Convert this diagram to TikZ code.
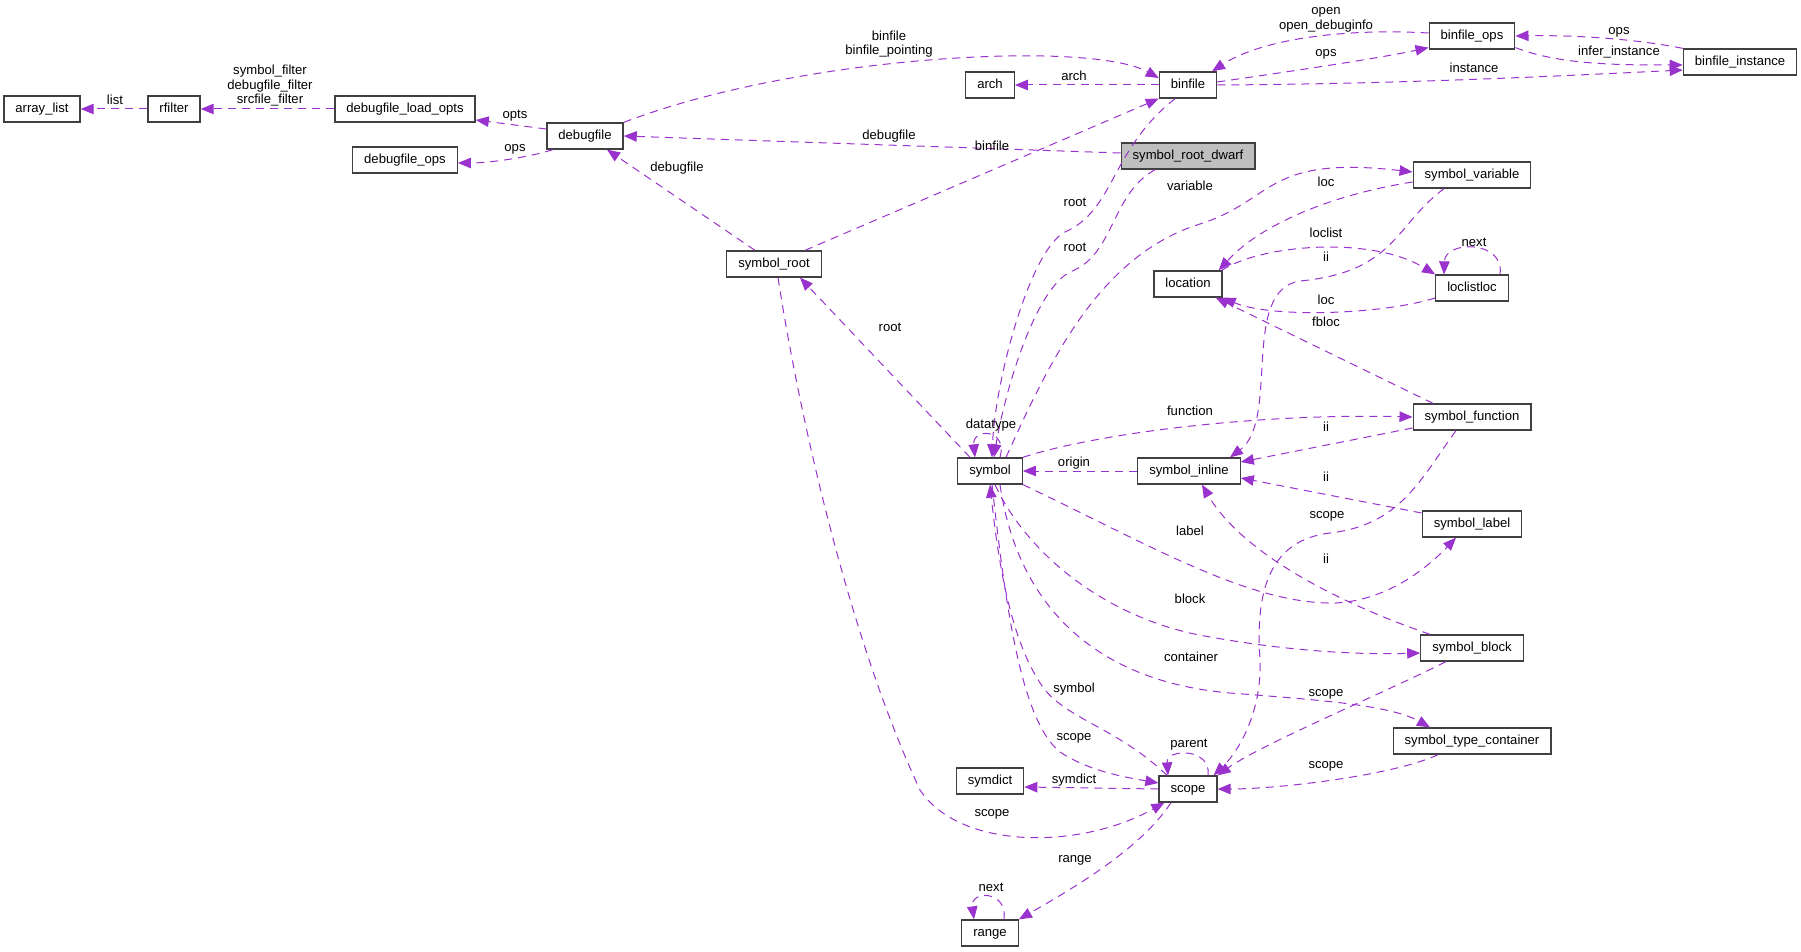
\documentclass[tikz,border=0pt]{standalone}
\usepackage{fontspec}
\setmainfont{Liberation Sans}
\usetikzlibrary{arrows.meta}
\definecolor{edgepurple}{HTML}{9A32CD}
\definecolor{boxgray}{HTML}{BFBFBF}
\definecolor{boxline}{HTML}{404040}

\begin{document}
\begin{tikzpicture}[x=1pt, y=-1pt,
  cls/.style ={draw=boxline, line width=1.3pt, fill=white, font=\fontsize{13.1}{15}\selectfont,
               inner xsep=11.5pt, inner ysep=0pt, minimum height=26pt, text height=9.5pt, text depth=2.7pt},
  clsMain/.style={cls, fill=boxgray},
  rel/.style ={draw=edgepurple, line width=1pt, dash pattern=on 8pt off 6pt,
               -{Triangle[length=13pt,width=10.5pt,fill=edgepurple]}},
  lbl/.style ={font=\fontsize{13.1}{15}\selectfont, inner sep=0pt, text height=9.5pt, text depth=2.7pt},
  lblM/.style={font=\fontsize{13.1}{14.5}\selectfont, inner sep=0pt, align=center},
]
\useasboundingbox (0,0) rectangle (1801,952);
\fill[white] (0,0) rectangle (1801,952);
% class boxes (coordinates in pixels of the reference)
\node[cls] (arrayList)    at (42,109)   {array\_list};
\node[cls] (rfilter)      at (174,109)  {rfilter};
\node[cls] (dfLoadOpts)   at (405,109)  {debugfile\_load\_opts};
\node[cls] (debugfile)    at (585,136)  {debugfile};
\node[cls] (dfOps)        at (405,160)  {debugfile\_ops};
\node[cls] (arch)         at (990,85)   {arch};
\node[cls] (binfile)      at (1188,85)  {binfile};
\node[cls] (binfileOps)   at (1472,36)  {binfile\_ops};
\node[cls] (binfileInst)  at (1740,62)  {binfile\_instance};
\node[clsMain] (symRootDwarf) at (1188,156) {symbol\_root\_dwarf};
\node[cls] (symVariable)  at (1472,175) {symbol\_variable};
\node[cls] (symRoot)      at (774,264)  {symbol\_root};
\node[cls] (location)     at (1188,284) {location};
\node[cls] (loclistloc)   at (1472,288) {loclistloc};
\node[cls] (symbol)       at (990,471)  {symbol};
\node[cls] (symInline)    at (1189,471) {symbol\_inline};
\node[cls] (symFunction)  at (1472,417) {symbol\_function};
\node[cls] (symLabel)     at (1472,524) {symbol\_label};
\node[cls] (symBlock)     at (1472,648) {symbol\_block};
\node[cls] (symTypeCont)  at (1472,741) {symbol\_type\_container};
\node[cls] (symdict)      at (990,781)  {symdict};
\node[cls] (scope)        at (1188,789) {scope};
\node[cls] (range)        at (990,933)  {range};
% left part
\draw[rel] (rfilter.west) -- (arrayList.east);
\draw[rel] (dfLoadOpts.west) -- (rfilter.east);
\draw[rel] ([yshift=7pt]debugfile.west) -- ([yshift=-11pt]dfLoadOpts.east);
\draw[rel] ([xshift=-32pt]debugfile.south) .. controls (530,157) and (490,163) .. ([yshift=-3pt]dfOps.east);
\draw[rel] (debugfile.north east) .. controls (800,55) and (1090,40) .. ([yshift=7pt]binfile.west);
% binfile group
\draw[rel] (binfile.west) -- (arch.east);
\draw[rel] ([yshift=3pt]binfile.east) .. controls (1300,70) and (1380,58) .. ([yshift=2pt]binfileOps.south west);
\draw[rel] ([yshift=3pt]binfileOps.west) .. controls (1340,28) and (1260,40) .. ([xshift=24pt]binfile.north);
\draw[rel] (binfile.east) .. controls (1400,84) and (1560,76) .. ([yshift=-8pt]binfileInst.west);
\draw[rel] ([yshift=2pt]binfileOps.south east) .. controls (1560,65) and (1620,65) .. ([yshift=-3pt]binfileInst.west);
\draw[rel] (binfileInst.north west) .. controls (1630,38) and (1570,35) .. (binfileOps.east);
% roots
\draw[rel] ([yshift=3pt]symRootDwarf.west) -- (debugfile.east);
\draw[rel] ([xshift=31pt]symRoot.north) -- (binfile.south west);
\draw[rel] ([xshift=-19pt]symRoot.north) -- ([xshift=22pt]debugfile.south);
\draw[rel] ([xshift=-20pt]symbol.north) -- ([xshift=26pt]symRoot.south);
\draw[rel] ([xshift=-13pt]binfile.south) .. controls (1110,150) and (1115,210) .. (1065,232)
           .. controls (1030,250) and (995,380) .. ([xshift=2pt]symbol.north);
\draw[rel] ([xshift=-33pt]symRootDwarf.south) .. controls (1110,195) and (1115,255) .. (1070,272)
           .. controls (1035,290) and (1005,390) .. ([xshift=4pt]symbol.north);
\draw[rel] ([xshift=16pt]symbol.north) .. controls (1050,360) and (1100,255) .. (1200,224)
           .. controls (1275,200) and (1265,155) .. ([yshift=3pt]symVariable.west);
\draw[rel] ([xshift=10pt]symbol.north) .. controls (1008,428) and (972,428) .. ([xshift=-15pt]symbol.north);
% locations
\draw[rel] ([yshift=-7pt]symVariable.west) .. controls (1330,195) and (1260,225) .. ([xshift=-4pt]location.north east);
\draw[rel] ([xshift=-1pt]location.north east) .. controls (1260,245) and (1370,235) .. (loclistloc.north west);
\draw[rel] ([yshift=-10pt]loclistloc.west) .. controls (1380,315) and (1270,318) .. (location.south east);
\draw[rel] ([xshift=-39pt]symFunction.north) -- ([xshift=-7pt]location.south east);
\draw[rel] ([xshift=28pt]loclistloc.north) .. controls (1505,240) and (1445,240) .. ([xshift=-28pt]loclistloc.north);
% symbol kinds
\draw[rel] (symInline.west) -- (symbol.east);
\draw[rel] (symbol.north east) .. controls (1090,435) and (1250,413) .. (symFunction.west);
\draw[rel] (symbol.south east) .. controls (1150,545) and (1250,605) .. (1336,603)
           .. controls (1390,600) and (1430,565) .. ([xshift=-16pt]symLabel.south);
\draw[rel] ([xshift=5pt]symbol.south) .. controls (1025,550) and (1100,615) .. (1199,635)
           .. controls (1280,650) and (1350,655) .. ([yshift=-5pt]symBlock.west);
\draw[rel] ([xshift=10pt]symbol.south) .. controls (1015,590) and (1080,680) .. (1230,693)
           .. controls (1320,700) and (1390,705) .. ([xshift=-42pt]symTypeCont.north);
\draw[rel] ([yshift=-11pt]symFunction.west) -- ([yshift=9pt]symInline.east);
\draw[rel] ([yshift=11pt]symLabel.west) -- ([yshift=-7pt]symInline.east);
\draw[rel] ([xshift=-42pt]symBlock.north) .. controls (1330,600) and (1240,550) .. ([xshift=13pt]symInline.south);
\draw[rel] ([xshift=-28pt]symVariable.south) .. controls (1395,225) and (1395,272) .. (1300,281)
           .. controls (1240,290) and (1280,420) .. ([xshift=41pt]symInline.north);
% scopes
\draw[rel] ([xshift=2pt]symbol.south) .. controls (1005,600) and (1020,720) .. (1060,752)
           .. controls (1090,772) and (1130,778) .. ([yshift=6pt]scope.west);
\draw[rel] ([xshift=-21pt]scope.north) .. controls (1120,730) and (1070,720) .. (1045,690)
           .. controls (1015,650) and (1000,580) .. (symbol.south);
\draw[rel] ([xshift=-16pt]symFunction.south) .. controls (1420,480) and (1400,525) .. (1330,533)
           .. controls (1270,540) and (1255,590) .. (1260,660)
           .. controls (1262,710) and (1240,750) .. ([xshift=-4pt]scope.north east);
\draw[rel] ([xshift=-26pt]symBlock.south) .. controls (1390,690) and (1260,745) .. (scope.north east);
\draw[rel] ([xshift=-34pt]symTypeCont.south) .. controls (1395,775) and (1280,789) .. (scope.east);
\draw[rel] (scope.west) -- ([yshift=-6pt]symdict.east);
\draw[rel] ([xshift=20pt]scope.north) .. controls (1212,748) and (1166,748) .. ([xshift=-20pt]scope.north);
\draw[rel] ([xshift=-17pt]scope.south) .. controls (1140,850) and (1070,890) .. (range.north east);
\draw[rel] ([xshift=14pt]range.north) .. controls (1008,890) and (970,890) .. ([xshift=-16pt]range.north);
\draw[rel] ([xshift=4pt]symRoot.south) .. controls (800,420) and (850,640) .. (920,790)
           .. controls (960,850) and (1080,850) .. ([xshift=6pt]scope.south west);
% edge labels
\node[lbl]  (lList)     at (115,101)  {list};
\node[lblM] (lFilters)  at (270,86)   {symbol\_filter\\debugfile\_filter\\srcfile\_filter};
\node[lbl]  (lOpts)     at (515,115)  {opts};
\node[lbl]  (lOpsDf)    at (515,148)  {ops};
\node[lblM] (lBinfile)  at (889,44)   {binfile\\binfile\_pointing};
\node[lbl]  (lArch)     at (1074,77)  {arch};
\node[lbl]  (lDfDwarf)  at (889,136)  {debugfile};
\node[lbl]  (lBfRoot)   at (992,147)  {binfile};
\node[lbl]  (lDfRoot)   at (677,168)  {debugfile};
\node[lblM] (lOpen)     at (1326,20)  {open\\open\_debuginfo};
\node[lbl]  (lOpsBf)    at (1326,53)  {ops};
\node[lbl]  (lInstance) at (1474,69)  {instance};
\node[lbl]  (lOpsInst)  at (1619,31)  {ops};
\node[lbl]  (lInfer)    at (1619,52)  {infer\_instance};
\node[lbl]  (lVariable) at (1190,187) {variable};
\node[lbl]  (lRootA)    at (1075,203) {root};
\node[lbl]  (lRootB)    at (1075,248) {root};
\node[lbl]  (lLocVar)   at (1326,183) {loc};
\node[lbl]  (lLoclist)  at (1326,234) {loclist};
\node[lbl]  (lIiVar)    at (1326,258) {ii};
\node[lbl]  (lNextLoc)  at (1474,243) {next};
\node[lbl]  (lLocList)  at (1326,301) {loc};
\node[lbl]  (lFbloc)    at (1326,323) {fbloc};
\node[lbl]  (lRootSym)  at (890,328)  {root};
\node[lbl]  (lDatatype) at (991,425)  {datatype};
\node[lbl]  (lFunction) at (1190,412) {function};
\node[lbl]  (lIiFunc)   at (1326,428) {ii};
\node[lbl]  (lOrigin)   at (1074,463) {origin};
\node[lbl]  (lIiLabel)  at (1326,478) {ii};
\node[lbl]  (lScopeFn)  at (1327,515) {scope};
\node[lbl]  (lLabel)    at (1190,532) {label};
\node[lbl]  (lIiBlock)  at (1326,560) {ii};
\node[lbl]  (lBlock)    at (1190,600) {block};
\node[lbl]  (lContain)  at (1191,658) {container};
\node[lbl]  (lScopeBl)  at (1326,693) {scope};
\node[lbl]  (lScopeTc)  at (1326,765) {scope};
\node[lbl]  (lSymbol)   at (1074,689) {symbol};
\node[lbl]  (lScopeSym) at (1074,737) {scope};
\node[lbl]  (lSymdict)  at (1074,780) {symdict};
\node[lbl]  (lParent)   at (1189,744) {parent};
\node[lbl]  (lScopeRt)  at (992,813)  {scope};
\node[lbl]  (lRange)    at (1075,859) {range};
\node[lbl]  (lNextRng)  at (991,888)  {next};
\end{tikzpicture}
\end{document}
